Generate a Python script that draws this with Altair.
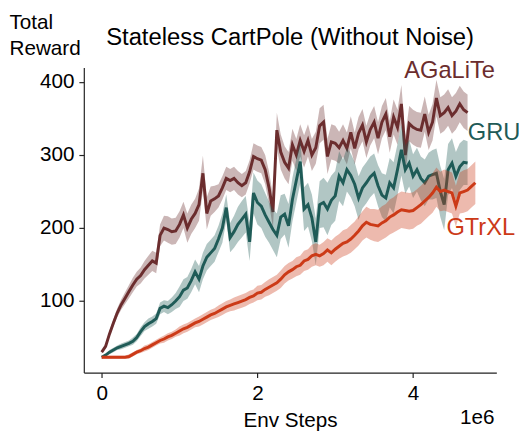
import altair as alt
import pandas as pd

STEP = 0.05  # env steps (x1e6) between evaluation points

series_names = ["AGaLiTe", "GRU", "GTrXL"]
series_colors = ["#6b2d2e", "#1f5b57", "#cc3a17"]

agalite = [30, 38, 55, 70, 84, 95, 104, 113, 122, 130,
           135, 143, 149, 155, 152, 190, 200, 198, 195, 196,
           205, 218, 200, 212, 220, 232, 275, 220, 237, 240,
           244, 255, 268, 265, 268, 262, 258, 262, 277, 298,
           295, 293, 280, 255, 222, 334, 304, 290, 282, 314,
           300, 320, 305, 320, 300, 310, 340, 345, 298, 318,
           316, 310, 320, 309, 331, 309, 330, 341, 318, 335,
           345, 323, 345, 356, 325, 352, 338, 370, 300, 343,
           338, 335, 334, 356, 331, 345, 378, 354, 358, 365,
           354, 360, 370, 362, 358]
agalite_hw = [2, 3, 4, 5, 6, 7, 8, 9, 10, 10,
              11, 12, 13, 14, 14, 15, 17, 18, 18, 18,
              18, 18, 20, 20, 20, 22, 24, 22, 20, 18,
              16, 16, 16, 16, 16, 16, 16, 16, 16, 18,
              18, 18, 20, 22, 22, 24, 24, 22, 22, 22,
              22, 22, 22, 22, 22, 22, 24, 24, 24, 24,
              24, 22, 22, 22, 22, 22, 22, 22, 22, 22,
              22, 22, 22, 22, 22, 24, 24, 26, 26, 24,
              24, 24, 24, 24, 24, 25, 25, 25, 25, 25,
              25, 25, 25, 25, 25]

gru = [23, 26, 30, 33, 36, 38, 40, 42, 45, 50,
       58, 65, 69, 72, 76, 90, 93, 91, 95, 100,
       106, 115, 118, 128, 140, 130, 148, 160, 166, 172,
       185, 200, 228, 187, 195, 205, 212, 219, 181, 248,
       235, 230, 218, 208, 198, 190, 215, 219, 203, 239,
       265, 291, 226, 232, 214, 181, 232, 235, 226, 238,
       244, 271, 262, 280, 272, 260, 241, 255, 262, 270,
       275, 258, 245, 241, 262, 255, 280, 307, 280, 289,
       271, 280, 268, 262, 271, 273, 275, 250, 232, 280,
       289, 271, 284, 290, 289]
gru_hw = [2, 2, 3, 3, 3, 4, 4, 4, 5, 5,
          6, 6, 7, 7, 7, 8, 8, 9, 10, 11,
          14, 15, 15, 16, 17, 18, 18, 18, 18, 18,
          18, 20, 18, 20, 22, 24, 25, 25, 26, 28,
          30, 30, 30, 28, 28, 30, 30, 28, 30, 30,
          30, 30, 30, 30, 32, 32, 32, 34, 36, 34,
          34, 34, 32, 30, 30, 30, 30, 28, 28, 28,
          27, 28, 30, 32, 34, 35, 35, 35, 33, 32,
          30, 30, 30, 32, 32, 34, 34, 35, 35, 35,
          34, 33, 32, 31, 30]

gtrxl = [23, 23, 23, 23, 23, 23, 23, 24, 27, 30,
         32, 35, 37, 40, 43, 46, 48, 51, 53, 56,
         59, 62, 64, 67, 70, 72, 75, 78, 81, 83,
         86, 89, 92, 94, 96, 98, 100, 102, 105, 107,
         111, 112, 116, 119, 122, 125, 130, 136, 140, 143,
         147, 149, 155, 157, 162, 164, 162, 165, 170, 166,
         171, 175, 179, 181, 185, 190, 196, 203, 208, 205,
         204, 203, 207, 210, 215, 218, 222, 225, 224, 223,
         224, 228, 232, 237, 242, 248, 256, 250, 252, 250,
         248, 230, 248, 250, 252, 257, 262]
gtrxl_hw = [2, 2, 2, 2, 2, 2, 2, 3, 3, 3,
            3, 4, 4, 4, 4, 4, 5, 5, 5, 5,
            6, 6, 6, 6, 6, 7, 7, 7, 7, 7,
            8, 8, 8, 8, 9, 9, 9, 9, 9, 9,
            10, 10, 10, 11, 11, 11, 12, 12, 12, 12,
            13, 13, 14, 14, 15, 15, 15, 16, 16, 17,
            17, 17, 18, 18, 19, 19, 20, 20, 21, 21,
            22, 22, 23, 23, 24, 24, 25, 25, 25, 25,
            25, 25, 26, 26, 26, 27, 27, 27, 28, 28,
            28, 28, 28, 29, 29, 29, 29]

label_x = [4.47, 5.04, 4.87]
label_y = [415, 330, 200]

x_ticks = [0, 2, 4]
y_ticks = [100, 200, 300, 400]

FONT = "Liberation Sans"

rows = []
for name, ys, hws in [("AGaLiTe", agalite, agalite_hw),
                      ("GRU", gru, gru_hw),
                      ("GTrXL", gtrxl, gtrxl_hw)]:
    for i, (v, h) in enumerate(zip(ys, hws)):
        rows.append({"series": name, "x": round(i * STEP, 2), "y": v,
                     "lo": v - h, "hi": v + h})
df = pd.DataFrame(rows)
labels = pd.DataFrame({"series": series_names, "x": label_x, "y": label_y})
single = pd.DataFrame({"k": [0]})

color_scale = alt.Scale(domain=series_names, range=series_colors)
xs = alt.Scale(domain=[-0.23, 5.07], nice=False, zero=False)
ys_ = alt.Scale(domain=[2, 420], nice=False, zero=False)

x_axis = alt.Axis(values=x_ticks, format="d", title="Env Steps", grid=False,
                  titleFontSize=21, titleFont=FONT, titleFontWeight="normal",
                  titleY=49, titleBaseline="middle", titleColor="#000")
y_axis = alt.Axis(values=y_ticks, format="d", title=["Total", "Reward"],
                  grid=False, titleAngle=0, titleAlign="left",
                  titleBaseline="top", titleX=-76, titleY=-57,
                  titleFontSize=21, titleFont=FONT, titleFontWeight="normal",
                  titleLineHeight=27, titleColor="#000")

layers = []
for name, col in zip(series_names, series_colors):
    sub = alt.Chart(df).transform_filter(alt.datum.series == name)
    band = sub.mark_area(opacity=0.35, color=col, line=False).encode(
        x=alt.X("x:Q", scale=xs, axis=x_axis),
        y=alt.Y("lo:Q", scale=ys_, axis=y_axis),
        y2="hi:Q",
    )
    line = sub.mark_line(color=col, strokeWidth=3).encode(
        x=alt.X("x:Q", scale=xs),
        y=alt.Y("y:Q", scale=ys_),
    )
    layers += [band, line]

text = alt.Chart(labels).mark_text(font=FONT, fontSize=24, align="center",
                                   baseline="middle").encode(
    x=alt.X("x:Q", scale=xs),
    y=alt.Y("y:Q", scale=ys_),
    text="series:N",
    color=alt.Color("series:N", scale=color_scale, legend=None),
)

title = alt.Chart(single).mark_text(font=FONT, fontSize=24.2, align="center",
                                    baseline="middle", color="#000").encode(
    x=alt.value(209.5), y=alt.value(-30),
    text=alt.value("Stateless CartPole (Without Noise)"),
)
exponent = alt.Chart(single).mark_text(font=FONT, fontSize=21, align="right",
                                       baseline="middle", color="#000").encode(
    x=alt.value(417), y=alt.value(356),
    text=alt.value("1e6"),
)

chart = alt.layer(*layers, text, title, exponent).properties(
    width=419, height=310,
    autosize=alt.AutoSizeParams(type="none"),
    padding={"left": 77, "top": 57, "right": 23, "bottom": 58},
).configure_view(stroke=None).configure_axis(
    domainColor="#222", tickColor="#222", domainWidth=1.2, tickWidth=1.2,
    tickSize=5, labelFont=FONT, labelFontSize=21, labelColor="#000",
    labelPadding=5,
)

chart.save("out.html", embed_options={"renderer": "svg", "actions": False})
